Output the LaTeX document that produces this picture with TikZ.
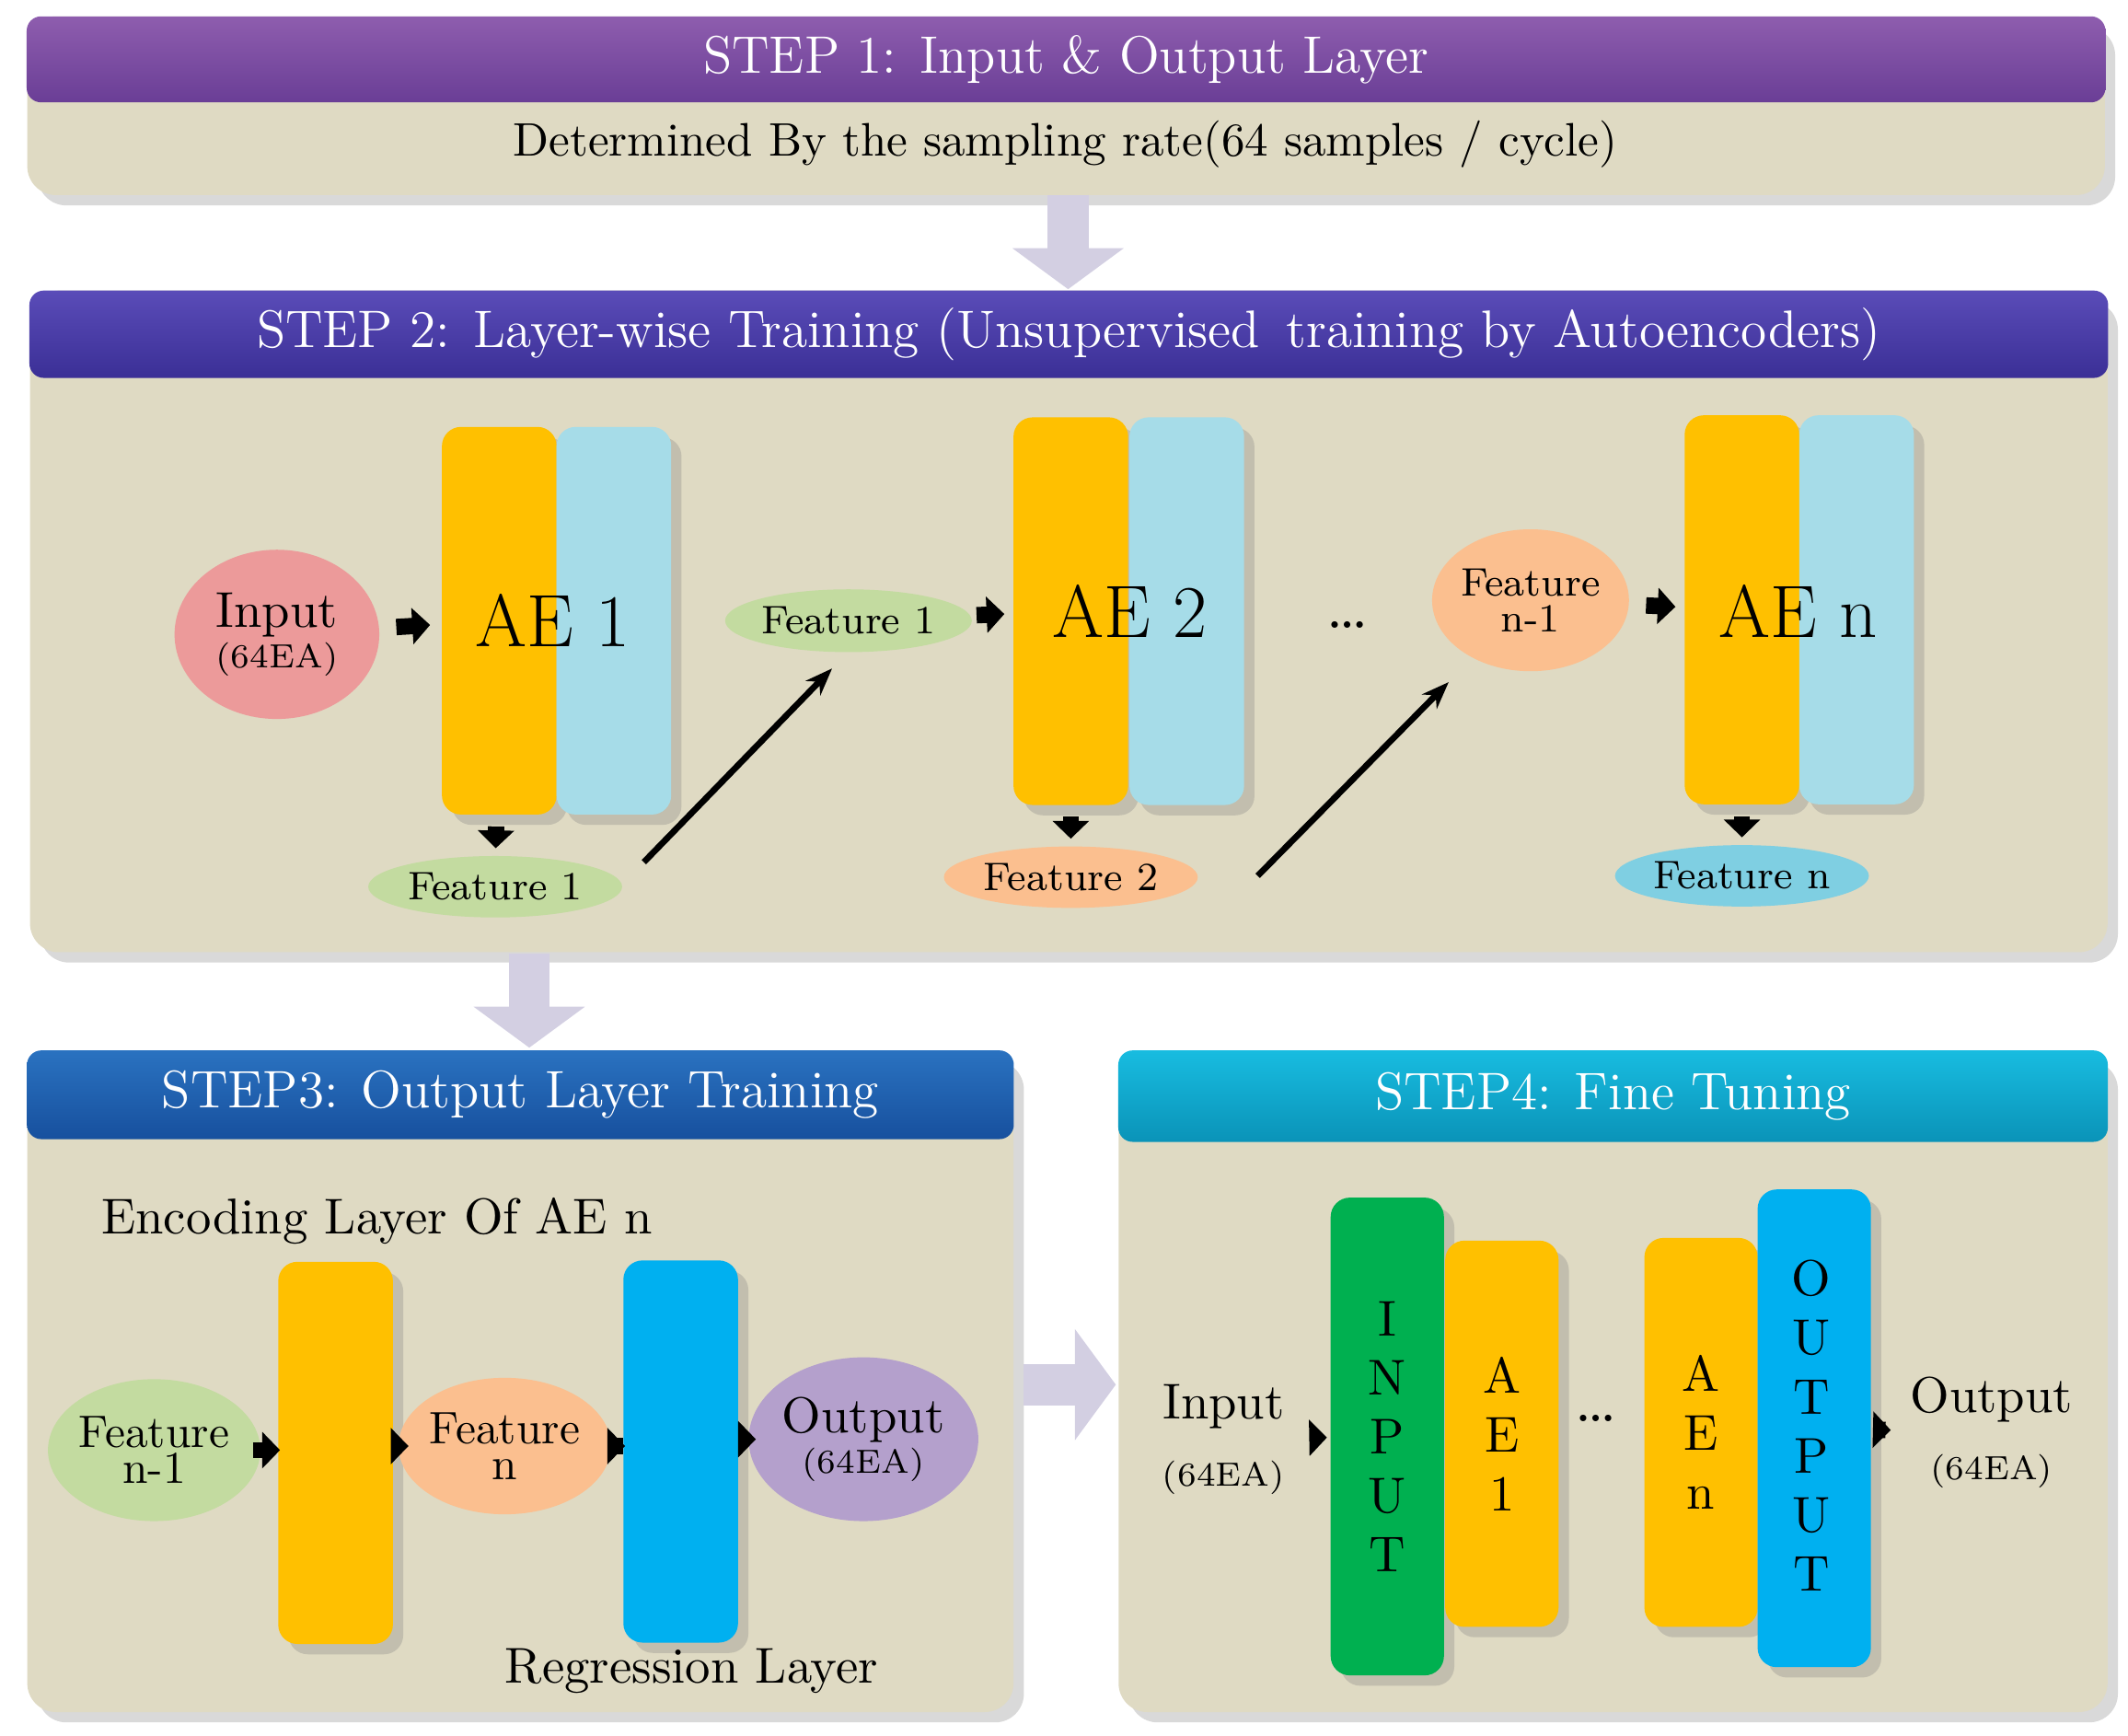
\documentclass[tikz,border=0pt]{standalone}
\usetikzlibrary{shadows,arrows.meta,shapes.geometric}
\definecolor{beige}{HTML}{DFDAC3}
\definecolor{orng}{HTML}{FFC000}
\definecolor{lblue}{HTML}{A6DCE8}
\definecolor{sky}{HTML}{00B0F0}
\definecolor{grn}{HTML}{00B050}
\definecolor{pinkf}{HTML}{EC9A9A}
\definecolor{greenf}{HTML}{C3DBA0}
\definecolor{orangef}{HTML}{FBBF8F}
\definecolor{bluef}{HTML}{7FCFE2}
\definecolor{purplef}{HTML}{B4A0CC}
\definecolor{lav}{HTML}{D3CFE2}
\definecolor{hOneT}{HTML}{8E5DAE}
\definecolor{hOneB}{HTML}{6A3E96}
\definecolor{hTwoT}{HTML}{5A4CB8}
\definecolor{hTwoB}{HTML}{3B2F96}
\definecolor{hThrT}{HTML}{2A72C0}
\definecolor{hThrB}{HTML}{17509E}
\definecolor{hFouT}{HTML}{18BCE0}
\definecolor{hFouB}{HTML}{0A93B8}
\tikzset{
  panel/.style={fill=beige, rounded corners=6pt, drop shadow={opacity=0.3}},
  header/.style={rounded corners=3pt, text=white, font=\fontsize{11}{13}\selectfont, inner sep=0pt},
  bar/.style={rounded corners=4pt, minimum width=0.84cm, inner sep=0pt, drop shadow={opacity=0.3}},
  feat/.style={ellipse, inner sep=0pt, align=center, font=\fontsize{8.3}{9.5}\selectfont},
  blk/.style={-{Triangle[length=0.13cm,width=0.26cm]}, line width=0.12cm, black},
  bigarrow/.style={-{Triangle[length=0.3cm,width=0.8cm]}, line width=0.3cm, lav},
  vlet/.style={align=center, font=\fontsize{10.5}{12.3}\selectfont}
}
\begin{document}
\begin{tikzpicture}[x=0.01cm,y=-0.01cm]
\useasboundingbox (0,0) rectangle (1560,1272);

% panels
\path[panel] (20,12) rectangle (1543,143);
\node[header, top color=hOneT, bottom color=hOneB, minimum width=15.23cm, minimum height=0.63cm] (h1) at (781.5,43.5) {STEP 1: Input \& Output Layer};
\node[font=\fontsize{9.8}{12}\selectfont] (d1) at (781,106) {Determined By the sampling rate(64 samples / cycle)};

\path[panel] (22,213) rectangle (1545,698);
\node[header, top color=hTwoT, bottom color=hTwoB, minimum width=15.23cm, minimum height=0.64cm] (h2) at (783.5,245) {STEP 2: Layer-wise Training (Unsupervised\, training by Autoencoders)};

\path[panel] (20,770) rectangle (743,1255);
\node[header, top color=hThrT, bottom color=hThrB, minimum width=7.23cm, minimum height=0.65cm] (h3) at (381.5,802.5) {STEP3: Output Layer Training};

\path[panel] (820,770) rectangle (1545,1255);
\node[header, top color=hFouT, bottom color=hFouB, minimum width=7.25cm, minimum height=0.67cm] (h4) at (1182.5,803.5) {STEP4: Fine Tuning};

% big arrows between steps
\coordinate (a1s) at (783,143);
\coordinate (a1e) at (783,212);
\draw[bigarrow] (a1s) -- (a1e);
\coordinate (a2s) at (388,699);
\coordinate (a2e) at (388,768);
\draw[bigarrow] (a2s) -- (a2e);
\coordinate (a3s) at (750,1015);
\coordinate (a3e) at (818,1015);
\draw[bigarrow] (a3s) -- (a3e);

% step 2
\node[feat, fill=pinkf, minimum width=1.5cm, minimum height=1.24cm] (in2) at (203,465) {\fontsize{10.5}{12}\selectfont Input\\[-1pt]\fontsize{7}{9}\selectfont(64EA)};
\node[bar, fill=orng, minimum height=2.84cm] (ae1o) at (366,455) {};
\node[bar, fill=lblue, minimum height=2.84cm] (ae1b) at (450,455) {};
\node[font=\fontsize{15.5}{18}\selectfont] (ae1l) at (405,455) {AE 1};
\node[feat, fill=greenf, minimum width=1.86cm, minimum height=0.45cm] (f1a) at (363,650) {Feature 1};
\node[feat, fill=greenf, minimum width=1.76cm, minimum height=0.46cm] (f1b) at (622,455) {Feature 1};
\node[bar, fill=orng, minimum height=2.84cm] (ae2o) at (785,448) {};
\node[bar, fill=lblue, minimum height=2.84cm] (ae2b) at (870,448) {};
\node[font=\fontsize{15.5}{18}\selectfont] (ae2l) at (828,448) {AE 2};
\node[feat, fill=orangef, minimum width=1.86cm, minimum height=0.45cm] (f2) at (785,643) {Feature 2};
\node[font=\fontsize{14}{14}\selectfont] (dots2) at (988,458) {\dots};
\node[feat, fill=orangef, minimum width=1.4cm, minimum height=1.04cm] (fn1a) at (1122,440) {Feature\\[-2pt]n-1};
\node[bar, fill=orng, minimum height=2.85cm] (aeno) at (1277,447) {};
\node[bar, fill=lblue, minimum height=2.85cm] (aenb) at (1361,447) {};
\node[font=\fontsize{15.5}{18}\selectfont] (aenl) at (1318,448) {AE n};
\node[feat, fill=bluef, minimum width=1.86cm, minimum height=0.45cm] (fn) at (1277,642) {Feature n};

\draw[blk, shorten <=0.12cm, shorten >=0.08cm] (in2) -- (ae1o);
\draw[blk, shorten <=0.08cm, shorten >=0.05cm] (ae1o) -- (f1a);
\coordinate (d1s) at (472,632);
\coordinate (d1e) at (610,490);
\draw[-{Stealth[length=0.2cm]}, line width=1.3pt] (d1s) -- (d1e);
\draw[blk, shorten <=0.04cm, shorten >=0.06cm] (f1b) -- (ae2o);
\draw[blk, shorten <=0.08cm, shorten >=0.05cm] (ae2o) -- (f2);
\coordinate (d2s) at (922,642);
\coordinate (d2e) at (1062,500);
\draw[-{Stealth[length=0.2cm]}, line width=1.3pt] (d2s) -- (d2e);
\draw[blk, shorten <=0.12cm, shorten >=0.06cm] (fn1a) -- (aeno);
\draw[blk, shorten <=0.08cm, shorten >=0.05cm] (aeno) -- (fn);

% step 3
\node[anchor=west, font=\fontsize{10.5}{12}\selectfont] (enc) at (62,895) {Encoding Layer Of AE n};
\node[feat, fill=greenf, minimum width=1.44cm, minimum height=1.04cm] (fn1b) at (113,1063) {\fontsize{9.5}{11}\selectfont Feature\\[-2pt]\fontsize{9.5}{11}\selectfont n-1};
\node[bar, fill=orng, minimum height=2.8cm] (enco) at (246,1065) {};
\node[feat, fill=orangef, minimum width=1.36cm, minimum height=1.0cm] (fn3) at (370,1060) {\fontsize{9.5}{11}\selectfont Feature\\[-2pt]\fontsize{9.5}{11}\selectfont n};
\node[bar, fill=sky, minimum height=2.8cm] (reg) at (499,1064) {};
\node[feat, fill=purplef, minimum width=1.44cm, minimum height=1.2cm] (out3) at (633,1055) {\fontsize{10.5}{12}\selectfont Output\\[-1pt]\fontsize{7}{9}\selectfont(64EA)};
\node[font=\fontsize{10.5}{12}\selectfont] (regl) at (507,1225) {Regression Layer};
\draw[blk, shorten <=-0.06cm, shorten >=-0.02cm] (fn1b.east) -- (enco.west |- fn1b.east);
\draw[blk, shorten <=-0.02cm, shorten >=-0.08cm] (enco.east |- fn3.west) -- (fn3.west);
\draw[blk, shorten <=-0.08cm, shorten >=-0.02cm] (fn3.east) -- (reg.west |- fn3.east);
\draw[blk, shorten <=0.02cm, shorten >=-0.06cm] (reg.east |- out3.west) -- (out3.west);

% step 4
\node[align=center] (in4) at (897,1055) {\fontsize{10.5}{12}\selectfont Input\\[2pt]\fontsize{7}{9}\selectfont(64EA)};
\node[bar, fill=grn, minimum width=0.83cm, minimum height=3.5cm] (inl) at (1017,1053) {};
\node[vlet] (inlt) at (1017,1053) {I\\N\\P\\U\\T};
\node[bar, fill=orng, minimum width=0.83cm, minimum height=2.83cm] (ae1f) at (1101,1051) {};
\node[vlet] (ae1ft) at (1101,1051) {A\\E\\1};
\node[font=\fontsize{14}{14}\selectfont] (dots4) at (1170,1040) {\dots};
\node[bar, fill=orng, minimum width=0.83cm, minimum height=2.85cm] (aenf) at (1247,1050) {};
\node[vlet] (aenft) at (1247,1050) {A\\E\\n};
\node[bar, fill=sky, minimum width=0.83cm, minimum height=3.5cm] (outl) at (1330,1047) {};
\node[vlet] (outlt) at (1328,1045) {O\\U\\T\\P\\U\\T};
\node[align=center] (out4) at (1460,1050) {\fontsize{10.5}{12}\selectfont Output\\[2pt]\fontsize{7}{9}\selectfont(64EA)};
\draw[blk, shorten <=0.06cm, shorten >=0.02cm] (in4) -- (inl);
\draw[blk, shorten <=0.1cm, shorten >=0.02cm] (outl) -- (out4);
\end{tikzpicture}
\end{document}
